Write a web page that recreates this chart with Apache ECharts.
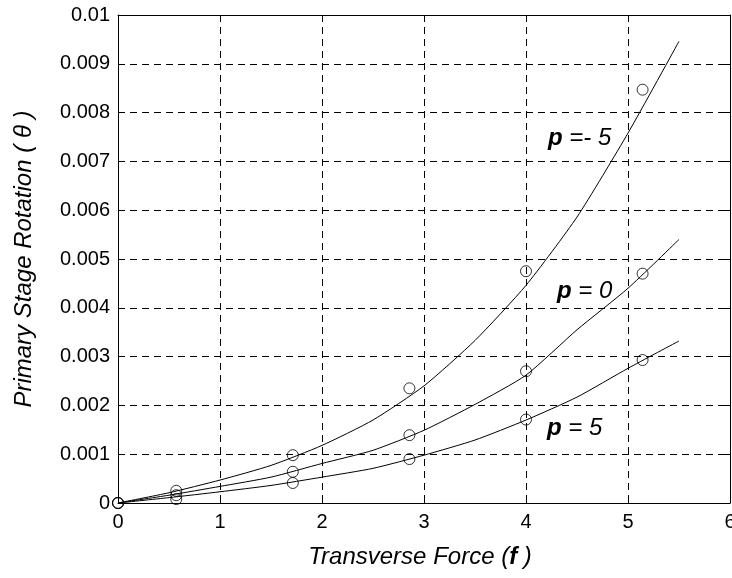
<!DOCTYPE html>
<html>
<head>
<meta charset="utf-8">
<script src="https://cdn.jsdelivr.net/npm/echarts@6/dist/echarts.min.js"></script>
<style>html,body{margin:0;padding:0;background:#fff}#c{width:732px;height:578px}</style>
</head>
<body>
<div id="c"></div>
<script>
// Fitted curves (x in f, y in theta)
var curveX = [0, 0.5, 1.0, 1.5, 2.0, 2.5, 3.0, 3.5, 4.0, 4.5, 5.0, 5.5];
var curveNeg5 = [0, 0.00021, 0.00047, 0.00077, 0.00118, 0.00170, 0.00240, 0.00333, 0.00446, 0.00586, 0.00758, 0.00946];
var curve0 = [0, 0.00016, 0.00034, 0.00053, 0.00081, 0.00108, 0.00149, 0.00202, 0.00262, 0.00355, 0.00440, 0.00540];
var curvePos5 = [0, 0.00011, 0.00023, 0.00036, 0.00053, 0.00071, 0.00098, 0.00129, 0.00170, 0.00217, 0.00276, 0.00332];
// Measured points
var pointX = [0, 0.571, 1.714, 2.857, 4.0, 5.143];
var pointNeg5 = [0, 0.00025, 0.00098, 0.00235, 0.00475, 0.00847];
var point0 = [0, 0.00016, 0.00064, 0.00139, 0.00270, 0.00470];
var pointPos5 = [0, 0.00008, 0.00041, 0.00090, 0.00171, 0.00293];
var xTicks = [0, 1, 2, 3, 4, 5, 6];
var yTicks = [0, 0.001, 0.002, 0.003, 0.004, 0.005, 0.006, 0.007, 0.008, 0.009, 0.01];

function zip(xs, ys) { return xs.map(function (x, i) { return [x, ys[i]]; }); }

var FONT = '"Liberation Sans", Arial, sans-serif';
var chart = echarts.init(document.getElementById('c'), null, {renderer: 'canvas'});

function lineSeries(ys) {
  return {type: 'line', data: zip(curveX, ys), showSymbol: false, smooth: 0.2,
    lineStyle: {color: '#000', width: 1}, silent: true, z: 3};
}
function pointSeries(ys) {
  return {type: 'scatter', data: zip(pointX, ys), symbol: 'circle', symbolSize: 11,
    itemStyle: {color: 'rgba(0,0,0,0)', borderColor: '#000', borderWidth: 1}, silent: true, z: 4};
}

var gridLine = {show: true, lineStyle: {color: '#000', width: 1, type: [7, 5]}};

chart.setOption({
  animation: false,
  backgroundColor: '#fff',
  grid: {left: 118, right: 2, top: 15, bottom: 75, containLabel: false, outerBoundsMode: 'none'},
  xAxis: [{
    type: 'value', min: 0, max: 6, interval: 1,
    axisLine: {show: true, onZero: false, lineStyle: {color: '#000', width: 1}},
    axisTick: {show: true, inside: true, length: 6, lineStyle: {color: '#000'}},
    axisLabel: {color: '#000', fontSize: 20, fontFamily: FONT, margin: 9,
      formatter: function (v) { return xTicks.indexOf(v) >= 0 ? String(v) : ''; }},
    splitLine: gridLine
  }, {
    type: 'value', min: 0, max: 6, interval: 1, position: 'top',
    axisLine: {show: true, onZero: false, lineStyle: {color: '#000', width: 1}},
    axisTick: {show: true, inside: true, length: 6, lineStyle: {color: '#000'}},
    axisLabel: {show: false}, splitLine: {show: false}
  }],
  yAxis: [{
    type: 'value', min: 0, max: 0.01, interval: 0.001,
    axisLine: {show: true, onZero: false, lineStyle: {color: '#000', width: 1}},
    axisTick: {show: true, inside: true, length: 6, lineStyle: {color: '#000'}},
    axisLabel: {color: '#000', fontSize: 20, fontFamily: FONT, margin: 8,
      formatter: function (v) {
        var r = Math.round(v * 1000) / 1000;
        return r === 0 ? '0' : String(r);
      }},
    splitLine: gridLine
  }, {
    type: 'value', min: 0, max: 0.01, interval: 0.001, position: 'right',
    axisLine: {show: true, onZero: false, lineStyle: {color: '#000', width: 1}},
    axisTick: {show: true, inside: true, length: 6, lineStyle: {color: '#000'}},
    axisLabel: {show: false}, splitLine: {show: false}
  }],
  series: [
    lineSeries(curveNeg5), lineSeries(curve0), lineSeries(curvePos5),
    pointSeries(pointNeg5), pointSeries(point0), pointSeries(pointPos5)
  ],
  graphic: [
    {type: 'text', x: 24, y: 259, rotation: Math.PI / 2,
      style: {text: 'Primary Stage Rotation ( θ )', font: 'italic 24px ' + FONT, fill: '#000',
        align: 'center', verticalAlign: 'middle'}},
    {type: 'text', x: 420, y: 557,
      style: {text: 'Transverse Force ({b|f} )', font: 'italic 24px ' + FONT, fill: '#000',
        align: 'center', verticalAlign: 'middle',
        rich: {b: {font: 'italic bold 24px ' + FONT, fill: '#000'}}}},
    {type: 'text', x: 548, y: 138,
      style: {text: '{b|p} =- 5', font: 'italic 24px ' + FONT, fill: '#000',
        align: 'left', verticalAlign: 'middle',
        rich: {b: {font: 'italic bold 24px ' + FONT, fill: '#000'}}}},
    {type: 'text', x: 557, y: 291,
      style: {text: '{b|p} = 0', font: 'italic 24px ' + FONT, fill: '#000',
        align: 'left', verticalAlign: 'middle',
        rich: {b: {font: 'italic bold 24px ' + FONT, fill: '#000'}}}},
    {type: 'text', x: 547, y: 428,
      style: {text: '{b|p} = 5', font: 'italic 24px ' + FONT, fill: '#000',
        align: 'left', verticalAlign: 'middle',
        rich: {b: {font: 'italic bold 24px ' + FONT, fill: '#000'}}}}
  ]
});
</script>
</body>
</html>
